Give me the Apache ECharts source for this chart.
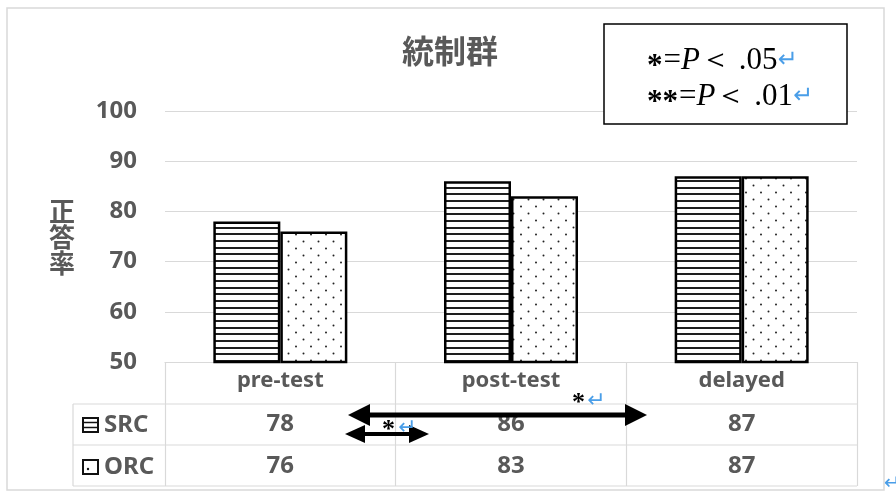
<!DOCTYPE html>
<html><head><meta charset="utf-8">
<script src="https://cdn.jsdelivr.net/npm/echarts@6/dist/echarts.min.js"></script>
<style>html,body{margin:0;padding:0;background:#fff}#c{width:896px;height:494px}</style>
</head><body><div id="c"></div>
<script>
// ---- data ----
const chartTitle = '統制群';
const yAxisName = '正答率';
const categories = ['pre-test', 'post-test', 'delayed'];
const seriesNames = ['SRC', 'ORC'];
const srcValues = [78, 86, 87];
const orcValues = [76, 83, 87];
const yMin = 50, yMax = 100, yStep = 10;
const noteStars = ['*', '**'];
const noteP = ['.05', '.01'];
const sigMark = '*';
const paraMark = '↵';

// ---- styles ----
const GRAY = '#595959', LINE = '#d9d9d9', BLUE = '#4a9ee8';
const SANS = '"Noto Sans","Noto Sans CJK JP",sans-serif';
const SERIF = '"Liberation Serif","DejaVu Serif",serif';

function stripePattern() {
  const c = document.createElement('canvas'); c.width = 10; c.height = 20;
  const x = c.getContext('2d');
  x.fillStyle = '#fff'; x.fillRect(0, 0, 10, 20);
  x.fillStyle = '#1e1e1e';
  [0, 7, 13].forEach(y => x.fillRect(0, y, 10, 2));
  return c;
}
function dotPattern() {
  const c = document.createElement('canvas'); c.width = 15; c.height = 14;
  const x = c.getContext('2d');
  x.fillStyle = '#fff'; x.fillRect(0, 0, 15, 14);
  x.fillStyle = '#222';
  [[3.5, 3.5], [11, 10.5]].forEach(([a, b]) => { x.beginPath(); x.arc(a, b, 1.0, 0, Math.PI * 2); x.fill(); });
  return c;
}
const stripeFill = { image: stripePattern(), repeat: 'repeat' };
const dotFill = { image: dotPattern(), repeat: 'repeat' };

const chart = echarts.init(document.getElementById('c'), null, { renderer: 'canvas' });

const labelStyle = { color: GRAY, fontSize: 24, fontWeight: 'bold', fontFamily: SANS };
const tableAxis = (vals, offset) => ({
  type: 'category', data: vals.map(String), position: 'bottom', offset: offset,
  axisLine: { show: false }, axisTick: { show: false }, splitLine: { show: false },
  axisLabel: Object.assign({ margin: 8, interval: 0 }, labelStyle)
});

function arrow(x1, x2, y, lw, hl, hh) {
  return [
    { type: 'line', z: 120, shape: { x1: x1 + hl - 2, y1: y, x2: x2 - hl + 2, y2: y }, style: { stroke: '#000', lineWidth: lw } },
    { type: 'polygon', z: 120, shape: { points: [[x1, y], [x1 + hl, y - hh], [x1 + hl, y + hh]] }, style: { fill: '#000' } },
    { type: 'polygon', z: 120, shape: { points: [[x2, y], [x2 - hl, y - hh], [x2 - hl, y + hh]] }, style: { fill: '#000' } }
  ];
}
function txt(x, y, text, size, opts) {
  return Object.assign({ type: 'text', z: 130, x: x, y: y,
    style: Object.assign({ text: text, fontSize: size, fontFamily: SANS, fontWeight: 'bold', fill: GRAY,
      align: 'left', verticalAlign: 'middle', textAlign: 'left', textVerticalAlign: 'middle' }, opts || {}) });
}

const graphics = [];
// outer border
graphics.push({ type: 'rect', z: 1, shape: { x: 7, y: 8, width: 877, height: 482 }, style: { fill: 'none', stroke: LINE, lineWidth: 1.5 } });
// table lines
[404, 445, 486].forEach(y => graphics.push({ type: 'line', z: 5, shape: { x1: 73, y1: y, x2: 857, y2: y }, style: { stroke: LINE, lineWidth: 1.2 } }));
graphics.push({ type: 'line', z: 5, shape: { x1: 73, y1: 404, x2: 73, y2: 486 }, style: { stroke: LINE, lineWidth: 1.2 } });
// row headers with icons
graphics.push({ type: 'rect', z: 20, shape: { x: 83, y: 418, width: 15, height: 14 }, style: { fill: '#fff', stroke: '#111', lineWidth: 2 } });
[422.5, 427.5].forEach(y => graphics.push({ type: 'line', z: 21, shape: { x1: 84, y1: y, x2: 97, y2: y }, style: { stroke: '#111', lineWidth: 1.5 } }));
graphics.push({ type: 'rect', z: 20, shape: { x: 83, y: 460, width: 15, height: 14 }, style: { fill: '#fff', stroke: '#111', lineWidth: 2 } });
graphics.push({ type: 'circle', z: 21, shape: { cx: 88, cy: 469, r: 1.2 }, style: { fill: '#111' } });
graphics.push(txt(104, 425, seriesNames[0], 24));
graphics.push(txt(104, 467, seriesNames[1], 24));
// y axis name (vertical)
graphics.push(txt(62, 237, yAxisName.split('').join('\n'), 26, { align: 'center', textAlign: 'center', lineHeight: 26, fontFamily: '"Noto Sans CJK JP",sans-serif' }));
// note box
graphics.push({ type: 'rect', z: 100, shape: { x: 604, y: 24, width: 243, height: 100 }, style: { fill: '#fff', stroke: '#000', lineWidth: 1.5 } });
noteStars.forEach((s, i) => {
  graphics.push({ type: 'text', z: 110, x: 647, y: 61 + i * 36,
    style: { text: '{a|' + s + '}{s|=}{p|P}{s|＜ ' + noteP[i] + '}{b|' + paraMark + '}',
      verticalAlign: 'middle', textVerticalAlign: 'middle', align: 'left', textAlign: 'left',
      rich: {
        a: { fontSize: 31, fontFamily: SERIF, fontWeight: 'bold', fill: '#000', color: '#000', padding: [12, 1, 0, 0] },
        s: { fontSize: 31, fontFamily: SERIF, fill: '#000', color: '#000' },
        p: { fontSize: 31, fontFamily: SERIF, fontStyle: 'italic', fill: '#000', color: '#000' },
        b: { fontSize: 24, fontFamily: '"DejaVu Sans",sans-serif', fill: BLUE, color: BLUE }
      } } });
});
// significance arrows
arrow(348, 647, 415, 5, 22, 11).forEach(g => graphics.push(g));
arrow(345, 429, 434, 4, 20, 9).forEach(g => graphics.push(g));
graphics.push(txt(382, 430, sigMark, 26, { fill: '#000', fontFamily: SERIF, fontWeight: 'bold' }));
graphics.push(txt(398, 428, paraMark, 22, { fill: BLUE, fontFamily: '"DejaVu Sans",sans-serif', fontWeight: 'normal' }));
graphics.push(txt(572, 403, sigMark, 26, { fill: '#000', fontFamily: SERIF, fontWeight: 'bold' }));
graphics.push(txt(587, 401, paraMark, 22, { fill: BLUE, fontFamily: '"DejaVu Sans",sans-serif', fontWeight: 'normal' }));
// stray paragraph mark at bottom right
graphics.push(txt(884, 484, paraMark, 20, { fill: BLUE, fontFamily: '"DejaVu Sans",sans-serif', fontWeight: 'normal' }));

chart.setOption({
  backgroundColor: '#fff',
  animation: false,
  title: { text: chartTitle, left: 445, top: 30, textAlign: 'center',
    textStyle: { color: GRAY, fontSize: 32, fontWeight: 'bold', fontFamily: '"Noto Sans CJK JP",sans-serif' } },
  grid: { left: 165, right: 39, top: 111, bottom: 132, containLabel: false, outerBoundsMode: 'none' },
  xAxis: [
    { type: 'category', data: categories, position: 'bottom',
      axisLine: { show: true, lineStyle: { color: LINE, width: 1.2 } },
      axisTick: { show: true, length: 124, lineStyle: { color: LINE, width: 1.2 } },
      splitLine: { show: false },
      axisLabel: Object.assign({ margin: 8, interval: 0 }, labelStyle, { fontSize: 22 }) },
    tableAxis(srcValues, 42),
    tableAxis(orcValues, 84)
  ],
  yAxis: { type: 'value', min: yMin, max: yMax, interval: yStep,
    axisLine: { show: false }, axisTick: { show: false },
    splitLine: { lineStyle: { color: LINE, width: 1.2 } },
    axisLabel: Object.assign({ margin: 28 }, labelStyle) },
  series: [
    { name: seriesNames[0], type: 'bar', xAxisIndex: 0, data: srcValues, barWidth: 67, barGap: '0%',
      itemStyle: { color: stripeFill, borderColor: '#000', borderWidth: 2.5 }, emphasis: { disabled: true } },
    { name: seriesNames[1], type: 'bar', xAxisIndex: 0, data: orcValues, barWidth: 67, barGap: '0%',
      itemStyle: { color: dotFill, borderColor: '#000', borderWidth: 2.5 }, emphasis: { disabled: true } }
  ],
  graphic: graphics
});
</script></body></html>
